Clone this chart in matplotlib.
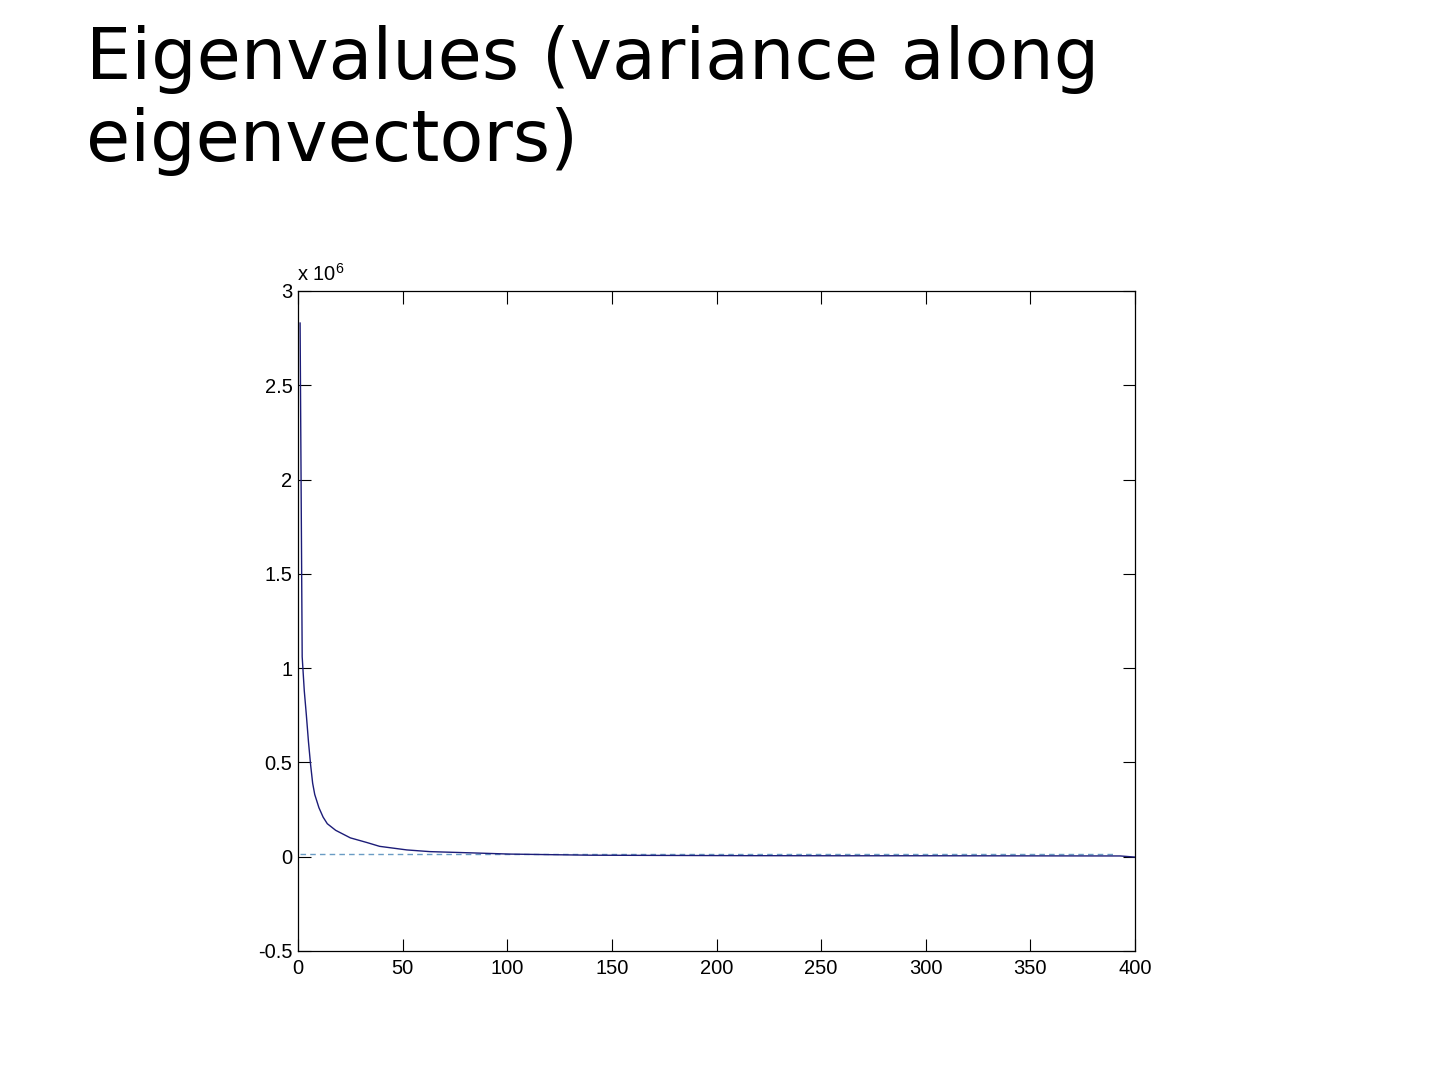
import matplotlib
matplotlib.use("Agg")
import matplotlib.pyplot as plt
from matplotlib.ticker import FixedLocator, FixedFormatter

title_text = "Eigenvalues (variance along\neigenvectors)"

# eigenvalue index and value (units of 1e6)
eig_index = [1, 2, 3, 4, 5, 6, 7, 8, 10, 12, 14, 18, 25, 33, 39, 52,
             63, 75, 84, 101, 120, 140, 170, 215, 260, 300, 350, 393, 400]
eig_value = [2.83, 1.06, 0.88, 0.75, 0.61, 0.49, 0.39, 0.33, 0.26, 0.21,
             0.175, 0.14, 0.10, 0.075, 0.055, 0.036, 0.027, 0.023, 0.020,
             0.014, 0.011, 0.008, 0.007, 0.0055, 0.005, 0.005, 0.0045,
             0.004, -0.002]

ref_x = [1, 390]
ref_y = [0.014, 0.014]

x_ticks = [0, 50, 100, 150, 200, 250, 300, 350, 400]
x_tick_labels = ["0", "50", "100", "150", "200", "250", "300", "350", "400"]
y_ticks = [-0.5, 0, 0.5, 1, 1.5, 2, 2.5, 3]
y_tick_labels = ["-0.5", "0", "0.5", "1", "1.5", "2", "2.5", "3"]

fig = plt.figure(figsize=(14.4, 10.8), dpi=100)
fig.patch.set_facecolor("white")

fig.text(86 / 1440, 1 - 25 / 1080, title_text, fontsize=51.6,
         family="DejaVu Sans", va="top", ha="left", linespacing=1.24)

ax = fig.add_axes([298 / 1440, 1 - 951 / 1080, (1135 - 298) / 1440,
                   (951 - 291) / 1080])
ax.plot(ref_x, ref_y, linestyle=(0, (4, 3)), color="#6a9cc4", linewidth=1.0)
ax.plot(eig_index, eig_value, color="#1c1c78", linewidth=1.0)

ax.set_xlim(0, 400)
ax.set_ylim(-0.5, 3)
ax.xaxis.set_major_locator(FixedLocator(x_ticks))
ax.xaxis.set_major_formatter(FixedFormatter(x_tick_labels))
ax.yaxis.set_major_locator(FixedLocator(y_ticks))
ax.yaxis.set_major_formatter(FixedFormatter(y_tick_labels))
ax.tick_params(direction="in", length=9, width=0.8, top=True, right=True,
               labelsize=14.5)
ax.tick_params(axis="x", pad=6)
ax.tick_params(axis="y", pad=4)
for lab in ax.get_xticklabels() + ax.get_yticklabels():
    lab.set_family("Liberation Sans")
for sp in ax.spines.values():
    sp.set_linewidth(0.9)

ax.text(-0.001, 1.01, r"x 10$^{\mathregular{6}}$", transform=ax.transAxes,
        fontsize=14.5, family="Liberation Sans", ha="left", va="bottom")

fig.savefig("out.png", dpi=100, facecolor="white")
